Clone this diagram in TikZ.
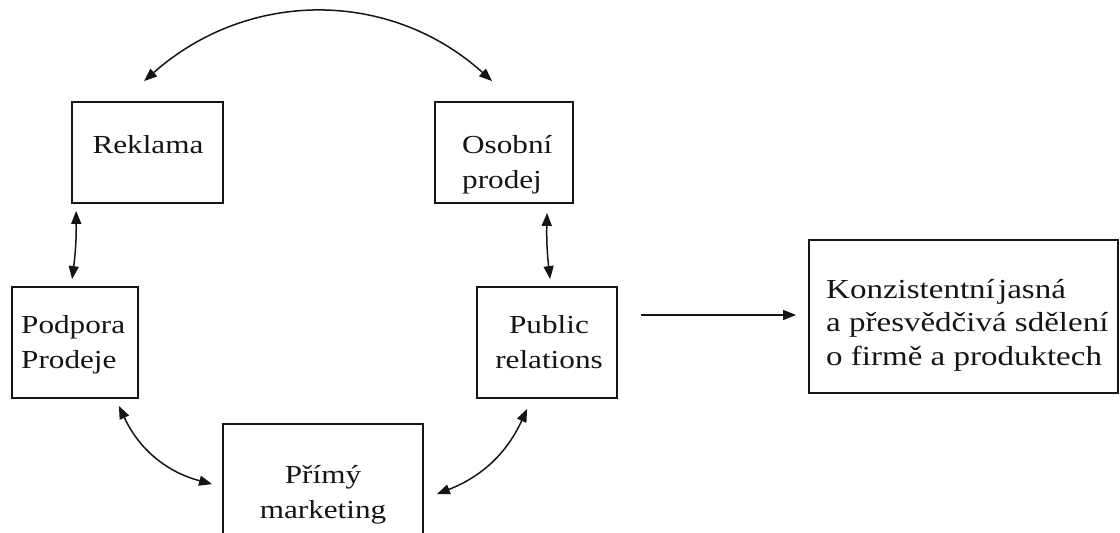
\documentclass[tikz,border=0pt]{standalone}
\usepackage{fontspec}
\setmainfont{Liberation Serif}[FakeStretch=1.2]
\usetikzlibrary{arrows.meta,calc}
\definecolor{ink}{HTML}{151515}
\begin{document}
\begin{tikzpicture}[x=1pt,y=-1pt,
  box/.style={draw=ink,line width=1.8pt,inner sep=0pt},
  lbl/.style={inner sep=0pt,text=ink,font=\fontsize{26}{34.5}\selectfont},
  conn/.style={draw=ink,line width=1.5pt,{Triangle[length=13pt,width=10pt]}-{Triangle[length=13pt,width=10pt]}},
  single/.style={draw=ink,line width=1.5pt,-{Triangle[length=13pt,width=10pt]}}]
\useasboundingbox (0,0) rectangle (1120,533);
\clip (0,0) rectangle (1120,533);
\fill[white] (0,0) rectangle (1120,533);
% boxes
\node[box,minimum width=151pt,minimum height=101pt] (rek) at (147.5,152.5) {};
\node[box,minimum width=138pt,minimum height=101pt] (oso) at (504,152.5) {};
\node[box,minimum width=126pt,minimum height=111pt] (pod) at (75,342.5) {};
\node[box,minimum width=140pt,minimum height=111pt] (pub) at (547,342.5) {};
\node[box,minimum width=200pt,minimum height=116pt] (pri) at (323,482) {};
\node[box,minimum width=309pt,minimum height=153pt] (res) at (963.5,316.5) {};
% labels (base anchor = baseline of the last line)
\node[lbl,anchor=base] (trek) at (148,153) {Reklama};
\node[lbl,anchor=base west,align=left] (toso) at (462,188) {Osobní\\prodej};
\node[lbl,anchor=base west,align=left] (tpod) at (21,368) {Podpora\\Prodeje};
\node[lbl,anchor=base,align=center] (tpub) at (549,368) {Public\\relations};
\node[lbl,anchor=base,align=center] (tpri) at (323,518) {Přímý\\marketing};
\node[lbl,anchor=base west,align=left,font=\fontsize{27.5}{33.5}\selectfont] (tres) at (826,365) {Konzistentní\hspace{0.12em}jasná\\a přesvědčivá sdělení\\o firmě a produktech};
% connectors
\draw[conn] ($(rek.north west)+(73,-20)$) .. controls (248,-11) and (390,-11) .. ($(oso.north west)+(58,-20)$);
\draw[conn] ($(rek.south west)+(5,7)$) to[bend left=4] ($(pod.north west)+(61,-7)$);
\draw[conn] ($(oso.south west)+(113,9)$) to[bend right=4] ($(pub.north west)+(74,-7)$);
\draw[conn] ($(pod.south east)+(-20,7)$) to[bend right=25] ($(pri.north west)+(-10,61)$);
\draw[conn] ($(pub.south west)+(51,10)$) to[bend left=22] ($(pri.north east)+(13,71)$);
\draw[single] ($(pub.east)+(23,-27.5)$) -- ($(res.west)+(-12,-1.5)$);
\end{tikzpicture}
\end{document}
